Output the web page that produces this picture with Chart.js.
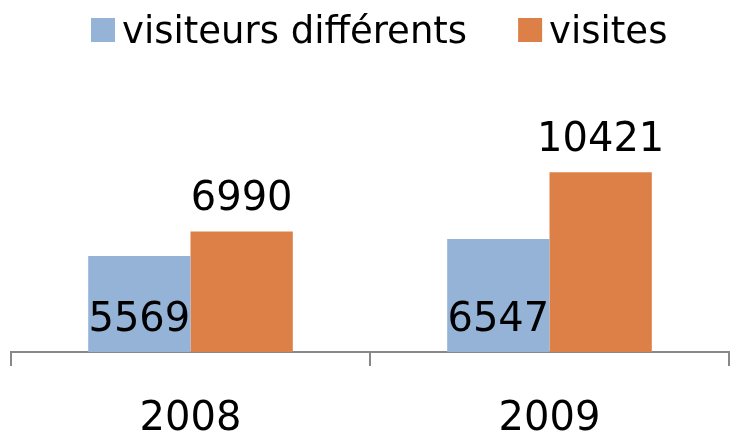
<!DOCTYPE html>
<html>
<head>
<meta charset="utf-8">
<script src="https://cdn.jsdelivr.net/npm/chart.js@4.4.1/dist/chart.umd.min.js"></script>
<style>
    html, body { margin: 0; padding: 0; background: #fff; }
    #wrap { width: 730px; height: 436px; }
</style>
</head>
<body>
<div id="wrap"><canvas id="visitsChart" width="730" height="436"></canvas></div>
<script>
// Chart data
const years = ['2008', '2009'];
const uniqueVisitors = [5569, 6547];
const visits = [6990, 10421];
const seriesNames = ['visiteurs différents', 'visites'];
const seriesColors = ['#95B3D7', '#DD8047'];

const FONT = '"DejaVu Sans", sans-serif';

// Draws the legend row at the top of the canvas
const topLegend = {
    id: 'topLegend',
    afterDraw: (chart) => {
        const ctx = chart.ctx;
        const boxSize = 24;
        let x = 91;
        ctx.save();
        ctx.font = `37px ${FONT}`;
        ctx.textBaseline = 'alphabetic';
        chart.data.datasets.forEach((ds, i) => {
            ctx.fillStyle = ds.backgroundColor;
            ctx.fillRect(x, 18, boxSize, boxSize);
            x += boxSize + 7;
            ctx.fillStyle = '#000';
            ctx.fillText(ds.label, x, 43);
            x += ctx.measureText(ds.label).width + 51;
        });
        ctx.restore();
    }
};

// Value labels: first series inside the base, second series above the bar
const valueLabels = {
    id: 'valueLabels',
    afterDatasetsDraw: (chart) => {
        const ctx = chart.ctx;
        const base = chart.chartArea.bottom;
        ctx.save();
        ctx.font = `40px ${FONT}`;
        ctx.fillStyle = '#000';
        ctx.textAlign = 'center';
        ctx.textBaseline = 'alphabetic';
        chart.data.datasets.forEach((ds, i) => {
            chart.getDatasetMeta(i).data.forEach((bar, j) => {
                const y = i === 0 ? base - 21 : bar.y - 21;
                ctx.fillText(String(ds.data[j]), bar.x, y);
            });
        });
        ctx.restore();
    }
};

const ctx = document.getElementById('visitsChart').getContext('2d');

new Chart(ctx, {
    type: 'bar',
    data: {
        labels: years,
        datasets: [{
            label: seriesNames[0],
            data: uniqueVisitors,
            backgroundColor: seriesColors[0],
            borderWidth: 0
        }, {
            label: seriesNames[1],
            data: visits,
            backgroundColor: seriesColors[1],
            borderWidth: 0
        }]
    },
    options: {
        responsive: false,
        animation: false,
        categoryPercentage: 0.57,
        barPercentage: 1.0,
        layout: {
            padding: { top: 145, left: 11, right: 1, bottom: -38 }
        },
        plugins: {
            legend: { display: false },
            tooltip: { enabled: false }
        },
        scales: {
            x: {
                grid: {
                    display: true,
                    offset: true,
                    drawOnChartArea: false,
                    drawTicks: true,
                    tickLength: 14,
                    color: '#888888',
                    lineWidth: 2
                },
                border: { display: true, color: '#888888', width: 2 },
                ticks: {
                    color: '#000',
                    padding: 34,
                    font: { family: FONT, size: 40, lineHeight: 1 }
                }
            },
            y: {
                display: false,
                min: 0,
                max: 12000
            }
        }
    },
    plugins: [topLegend, valueLabels]
});
</script>
</body>
</html>
